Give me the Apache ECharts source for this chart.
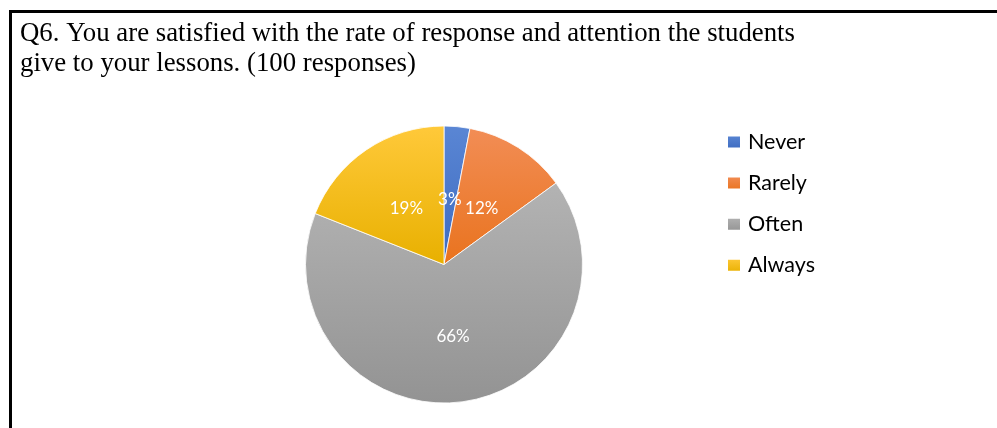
<!DOCTYPE html>
<html>
<head>
<meta charset="utf-8">
<script src="https://cdn.jsdelivr.net/npm/echarts@6/dist/echarts.min.js"></script>
<style>html,body{margin:0;padding:0;background:#fff;}#c{width:997px;height:428px;}</style>
</head>
<body>
<div id="c"></div>
<script>
const titleLines = ["Q6. You are satisfied with the rate of response and attention the students", "give to your lessons. (100 responses)"];
const categories = ["Never", "Rarely", "Often", "Always"];
const values = [3, 12, 66, 19];
const topColors = ["#5a86d4", "#f28d55", "#b3b3b3", "#ffc93a"];
const bottomColors = ["#3d6bc0", "#e9731e", "#939393", "#e8b000"];
const labelOffsets = [[-1, 7], [-1, 5], [0, 0], [3, 4]];

const chart = echarts.init(document.getElementById('c'), null, {renderer: 'canvas'});
const data = categories.map((name, i) => ({
  name: name,
  value: values[i],
  label: {offset: labelOffsets[i]},
  itemStyle: {
    color: new echarts.graphic.LinearGradient(0, 0, 0, 1, [
      {offset: 0, color: topColors[i]},
      {offset: 1, color: bottomColors[i]}
    ])
  }
}));
chart.setOption({
  animation: false,
  backgroundColor: '#fff',
  graphic: [{
    type: 'rect',
    shape: {x: 10.5, y: 11.5, width: 1100, height: 600},
    style: {fill: 'none', stroke: '#000', lineWidth: 3},
    silent: true
  }],
  title: {
    text: titleLines.join('\n'),
    left: 20, top: 18.5, padding: 0,
    textStyle: {fontFamily: 'Liberation Serif', fontSize: 26.8, fontWeight: 'normal', color: '#000', lineHeight: 30}
  },
  legend: {
    orient: 'vertical',
    left: 726, top: 131, padding: 0,
    itemWidth: 14, itemHeight: 13, itemGap: 19.1,
    icon: 'rect',
    data: categories,
    textStyle: {fontFamily: 'Lato', fontSize: 21.5, color: '#000', padding: [0,0,0,2], lineHeight: 20}
  },
  series: [{
    type: 'pie',
    center: [444, 264.5],
    radius: 138.5,
    startAngle: 90,
    clockwise: true,
    label: {
      show: true, position: 'inside',
      formatter: p => p.value + '%',
      color: '#fff', fontFamily: 'Lato', fontSize: 17
    },
    labelLine: {show: false},
    itemStyle: {borderColor: '#fff', borderWidth: 0.8},
    emphasis: {disabled: true},
    data: data
  }]
});
</script>
</body>
</html>
